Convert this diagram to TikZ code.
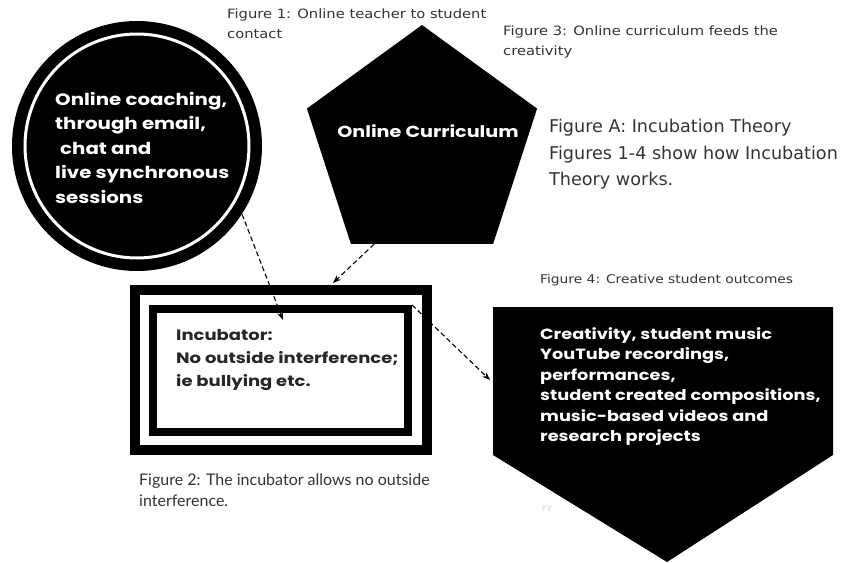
\documentclass[tikz,border=0pt]{standalone}
\usepackage{fontspec}
\setmainfont{DejaVu Sans}
\newfontfamily\gothic{Poppins}[FakeStretch=1.2]
\newfontfamily\capfont{DejaVu Sans}[FakeStretch=1.15]
\newfontfamily\gill{Lato}
\usetikzlibrary{positioning,calc,shapes.geometric,arrows.meta}
\tikzset{>=Stealth}
\newcommand*{\figtxt}{\capfont\fontsize{12.8}{20}\selectfont}
\newcommand*{\heavytxt}[2]{\gothic\bfseries\fontsize{#1}{#2}\selectfont}

\begin{document}
\begin{tikzpicture}[x=1pt,y=-1pt,
  heavy/.style={text=white,font=\heavytxt{16}{24.5},align=left,inner sep=0},
  capt/.style={anchor=north west,align=left,inner sep=0,text=black!80,font=\figtxt},
  conn/.style={->,dash pattern=on 5pt off 3pt,line width=1.1pt}]
\useasboundingbox (0,0) rectangle (843,562);
% circle
\node[circle,fill=black,minimum size=250,inner sep=0] (coach) at (137,146) {};
\draw[white,line width=3] (coach.center) circle[radius=112];
\node[heavy,font=\heavytxt{16.5}{24.5},anchor=north west] (coachtxt) at (55,92)
  {Online coaching,\\through email,\\\hspace{5pt}chat and\\live synchronous\\sessions};
% pentagon
\node[regular polygon,regular polygon sides=5,fill=black,minimum size=242,inner sep=0] (curr) at (422,146) {};
\node[heavy] (currtxt) at (428,131) {Online Curriculum};
% incubator
\node[draw,line width=10,minimum width=292,minimum height=160,inner sep=0] (incout) at (281,370) {};
\node[draw,line width=8,minimum width=255,minimum height=123,inner sep=0] (incin) at (280.5,370.5) {};
\node[heavy,text=black!85,font=\heavytxt{15}{23},anchor=north west] (inctxt) at (176,329)
  {Incubator:\\No outside interference;\\ie bullying etc.};
% outcomes
\coordinate (o1) at (493,307);
\coordinate (o2) at (833,307);
\coordinate (o3) at (833,455);
\coordinate (o4) at (667,562);
\coordinate (o5) at (493,455);
\fill (o1) -- (o2) -- (o3) -- (o4) -- (o5) -- cycle;
\node[heavy,font=\heavytxt{14.8}{20.5},anchor=north west] (outtxt) at (540,327)
  {Creativity, student music\\YouTube recordings,\\performances,\\student created compositions,\\music-based videos and\\research projects};
\node[text=white!90!black,font=\heavytxt{10}{11}] (rr) at (547,509) {rr};
% captions
\node[capt] (fig1) at (227,9) {Figure 1: Online teacher to student\\contact};
\node[capt] (fig3) at (503,26) {Figure 3: Online curriculum feeds the\\creativity};
\node[capt,font=\fontsize{17.6}{26.5}\selectfont] (figA) at (549,119)
  {Figure A: Incubation Theory\\Figures 1-4 show how Incubation\\Theory works.};
\node[capt,font=\capfont\fontsize{12}{20}\selectfont] (fig4) at (540,274) {Figure 4: Creative student outcomes};
\node[capt,font=\gill\fontsize{16}{21}\selectfont] (fig2) at (139,474)
  {Figure 2: The incubator allows no outside\\interference.};
% connectors
\coordinate (a1) at (283,320);
\coordinate (a2) at (333,283);
\coordinate (a3) at (490,380);
\draw[conn] (coach.-33) -- (a1);
\draw[conn] (curr.-116) -- (a2);
\draw[conn] (incin.north east) -- (a3);
\end{tikzpicture}
\end{document}
